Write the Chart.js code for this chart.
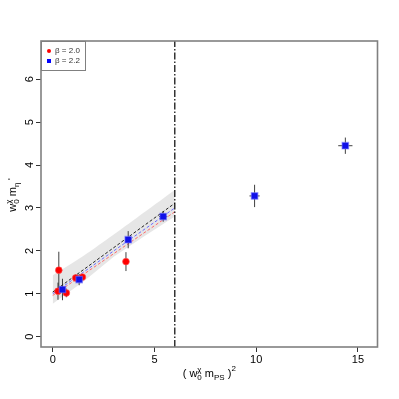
<!DOCTYPE html>
<html>
<head>
<meta charset="utf-8">
<script src="https://cdn.jsdelivr.net/npm/chart.js@4"></script>
<style>
html,body{margin:0;padding:0;background:#fff;}
#wrap{width:399px;height:399px;}
</style>
</head>
<body>
<div id="wrap"><canvas id="c" width="399" height="399"></canvas></div>
<script>
// ---- data ----
const redX    = [0.30, 0.26, 0.67, 1.13, 1.46, 3.60];
const redY    = [1.55, 1.06, 1.02, 1.37, 1.39, 1.75];
const redYErr = [0.43, 0.20, 0.10, 0.08, 0.07, 0.22];
const redXErr = [0.05, 0.05, 0.05, 0.08, 0.08, 0.10];

const blueX    = [0.48, 1.30, 3.71, 5.43, 9.92, 14.38];
const blueY    = [1.10, 1.33, 2.26, 2.80, 3.28, 4.45];
const blueYErr = [0.25, 0.13, 0.20, 0.12, 0.26, 0.19];
const blueXErr = [0.10, 0.12, 0.15, 0.20, 0.25, 0.35];

const fitX      = [0, 6];
const fitBlackY = [1.04, 3.11];
const fitBlueY  = [1.00, 3.00];
const fitRedY   = [0.96, 2.91];

const bandX     = [0, 1.5, 3, 4.5, 6];
const bandUpper = [1.43, 1.88, 2.38, 2.90, 3.42];
const bandLower = [0.77, 1.28, 1.86, 2.34, 2.80];

const cutX = 6;
const xTicks = [0, 5, 10, 15];
const yTicks = [0, 1, 2, 3, 4, 5, 6];
const legendLabels = ["\u03b2 = 2.0", "\u03b2 = 2.2"];

const X_MIN = -0.575, X_MAX = 15.96, Y_MIN = -0.24, Y_MAX = 6.89;

const pts = (xs, ys) => xs.map((x, i) => ({x: x, y: ys[i]}));

const FONT = '"Liberation Sans", Arial, sans-serif';

function drawRich(ctx, x, y, segs) {
  let cx = x;
  for (const g of segs) {
    if (g.stack) {
      ctx.font = g.s + 'px ' + FONT;
      const w = Math.max(ctx.measureText(g.stack[0]).width, ctx.measureText(g.stack[1]).width);
      ctx.fillText(g.stack[0], cx, y - 5);
      ctx.fillText(g.stack[1], cx, y + 3);
      cx += w;
    } else {
      ctx.font = g.s + 'px ' + FONT;
      ctx.fillText(g.t, cx, y + (g.dy || 0));
      cx += ctx.measureText(g.t).width;
    }
  }
  return cx - x;
}
function richWidth(ctx, segs) {
  let w = 0;
  for (const g of segs) {
    ctx.font = g.s + 'px ' + FONT;
    if (g.stack) w += Math.max(ctx.measureText(g.stack[0]).width, ctx.measureText(g.stack[1]).width);
    else w += ctx.measureText(g.t).width;
  }
  return w;
}

const decor = {
  id: 'decor',
  afterDatasetDraw(chart, args) {
    // error bars drawn right after the fit lines, below the markers
    if (args.index !== 4) return;
    const ctx = chart.ctx, xs = chart.scales.x, ys = chart.scales.y;
    ctx.save();
    ctx.lineWidth = 1;
    const bars = (X, Y, XE, YE, col) => {
      ctx.strokeStyle = col;
      for (let i = 0; i < X.length; i++) {
        const px = xs.getPixelForValue(X[i]), py = ys.getPixelForValue(Y[i]);
        ctx.beginPath();
        ctx.moveTo(px, ys.getPixelForValue(Y[i] - YE[i]));
        ctx.lineTo(px, ys.getPixelForValue(Y[i] + YE[i]));
        ctx.moveTo(xs.getPixelForValue(X[i] - XE[i]), py);
        ctx.lineTo(xs.getPixelForValue(X[i] + XE[i]), py);
        ctx.stroke();
      }
    };
    bars(redX, redY, redXErr, redYErr, 'rgba(30,30,30,0.85)');
    bars(blueX, blueY, blueXErr, blueYErr, 'rgba(30,30,30,0.85)');
    ctx.restore();
  },
  afterDraw(chart) {
    const ctx = chart.ctx, a = chart.chartArea, xs = chart.scales.x, ys = chart.scales.y;
    ctx.save();
    ctx.strokeStyle = '#808080';
    ctx.lineWidth = 1.6;
    ctx.strokeRect(a.left, a.top, a.right - a.left, a.bottom - a.top);
    ctx.fillStyle = '#000';
    ctx.font = '11px ' + FONT;
    ctx.textAlign = 'center';
    ctx.textBaseline = 'middle';
    for (const v of yTicks) {
      const py = ys.getPixelForValue(v);
      ctx.save();
      ctx.translate(30, py);
      ctx.rotate(-Math.PI / 2);
      ctx.fillText(String(v), 0, 0);
      ctx.restore();
    }
    ctx.textAlign = 'left';
    ctx.textBaseline = 'alphabetic';
    const xl = [
      {t: '( w', s: 11}, {stack: ['\u03c7', '0'], s: 8}, {t: ' m', s: 11},
      {t: 'PS', s: 8, dy: 3}, {t: ' )', s: 11}, {t: '2', s: 8, dy: -6}
    ];
    const xw = richWidth(ctx, xl);
    drawRich(ctx, (a.left + a.right) / 2 - xw / 2, 377, xl);
    const yl = [
      {t: 'w', s: 11}, {stack: ['\u03c7', '0'], s: 8}, {t: ' m', s: 11},
      {t: '\u03b7', s: 8, dy: 3}, {t: " '", s: 9, dy: -2}
    ];
    const yw = richWidth(ctx, yl);
    ctx.save();
    ctx.translate(16, 195);
    ctx.rotate(-Math.PI / 2);
    drawRich(ctx, -yw / 2, 0, yl);
    ctx.restore();
    // legend
    ctx.fillStyle = '#fff';
    ctx.fillRect(a.left, a.top, 44, 29);
    ctx.strokeStyle = '#808080';
    ctx.lineWidth = 1;
    ctx.strokeRect(a.left + 0.5, a.top + 0.5, 44, 29);
    ctx.fillStyle = '#ff0000';
    ctx.beginPath(); ctx.arc(a.left + 8, a.top + 10, 2, 0, Math.PI * 2); ctx.fill();
    ctx.fillStyle = '#0000ff';
    ctx.fillRect(a.left + 6, a.top + 18, 4, 4);
    ctx.fillStyle = '#333';
    ctx.font = '8px ' + FONT;
    ctx.textBaseline = 'middle';
    ctx.fillText(legendLabels[0], a.left + 14, a.top + 10);
    ctx.fillText(legendLabels[1], a.left + 14, a.top + 20);
    ctx.restore();
  }
};

new Chart(document.getElementById('c'), {
  type: 'scatter',
  data: {
    datasets: [
      {order: 10, data: pts(bandX, bandLower), showLine: true, borderWidth: 0, pointRadius: 0, borderColor: 'rgba(0,0,0,0)'},
      {order: 9, data: pts(bandX, bandUpper), showLine: true, borderWidth: 0, pointRadius: 0, borderColor: 'rgba(0,0,0,0)',
       fill: '-1', backgroundColor: 'rgba(200,200,200,0.45)', tension: 0.3},
      {order: 8, data: pts(fitX, fitRedY), showLine: true, borderWidth: 1, pointRadius: 0, borderColor: '#ff6a6a', borderDash: [3, 2]},
      {order: 7, data: pts(fitX, fitBlueY), showLine: true, borderWidth: 1, pointRadius: 0, borderColor: '#6a6aff', borderDash: [3, 2]},
      {order: 6, data: pts(fitX, fitBlackY), showLine: true, borderWidth: 1, pointRadius: 0, borderColor: '#222', borderDash: [3, 2]},
      {order: 5, data: [{x: cutX, y: Y_MIN}, {x: cutX, y: Y_MAX}], showLine: true, borderWidth: 1.2, pointRadius: 0,
       borderColor: '#000', borderDash: [7, 2, 1.5, 2]},
      {order: 2, data: pts(redX, redY), pointStyle: 'circle', pointRadius: 3.4, backgroundColor: '#ff0000',
       borderColor: 'rgba(255,90,90,0.6)', borderWidth: 1},
      {order: 1, data: pts(blueX, blueY), pointStyle: 'rect', pointRadius: 4.6, backgroundColor: '#1010e8',
       borderColor: 'rgba(110,110,255,0.55)', borderWidth: 1.2}
    ]
  },
  options: {
    responsive: false,
    animation: false,
    events: [],
    layout: {padding: {left: 0, top: 41, right: 21.5, bottom: 0}},
    plugins: {legend: {display: false}, tooltip: {enabled: false}},
    scales: {
      x: {
        type: 'linear', min: X_MIN, max: X_MAX,
        afterFit: s => { s.height = 52; },
        afterBuildTicks: s => { s.ticks = xTicks.map(v => ({value: v})); },
        grid: {drawOnChartArea: false, drawTicks: true, tickLength: 5, color: '#333', lineWidth: 1},
        border: {display: false},
        ticks: {color: '#000', font: {size: 11, family: FONT}, padding: 1, maxRotation: 0, includeBounds: false}
      },
      y: {
        type: 'linear', min: Y_MIN, max: Y_MAX,
        afterFit: s => { s.width = 41; },
        afterBuildTicks: s => { s.ticks = yTicks.map(v => ({value: v})); },
        grid: {drawOnChartArea: false, drawTicks: true, tickLength: 5, color: '#333', lineWidth: 1},
        border: {display: false},
        ticks: {display: false, includeBounds: false}
      }
    }
  },
  plugins: [decor]
});
</script>
</body>
</html>
